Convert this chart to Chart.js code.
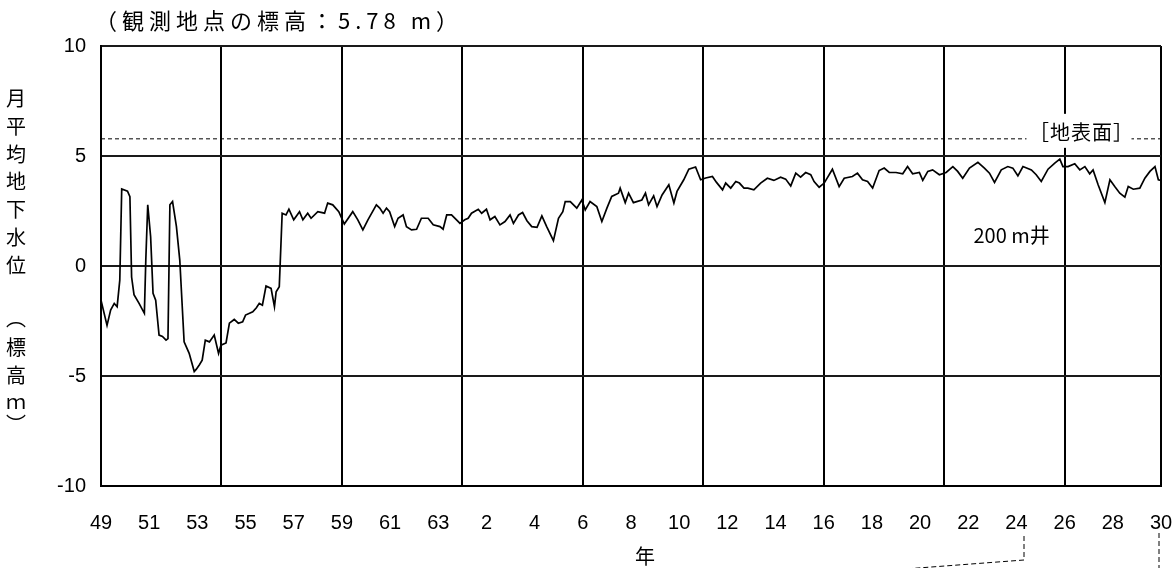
<!DOCTYPE html>
<html lang="ja">
<head>
<meta charset="utf-8">
<title>月平均地下水位 200 m井</title>
<script src="https://cdn.jsdelivr.net/npm/chart.js@4.4.1/dist/chart.umd.min.js"></script>
<style>
  html, body { margin: 0; padding: 0; background: #fff; }
  #wrap { position: relative; width: 1173px; height: 568px; }
</style>
</head>
<body>
<div id="wrap"><canvas id="wellChart" width="1173" height="568"></canvas></div>
<script>
// monthly mean groundwater level (T.P. m)
var obsYear = [
  1974.00, 1974.25, 1974.40, 1974.55, 1974.67, 1974.78, 1974.86, 1975.10, 1975.20, 1975.27,
  1975.37, 1975.58, 1975.80, 1975.86, 1975.94, 1976.06, 1976.16, 1976.27, 1976.41, 1976.55,
  1976.70, 1976.78, 1976.86, 1976.97, 1977.13, 1977.27, 1977.45, 1977.66, 1977.87, 1977.95,
  1978.08, 1978.20, 1978.33, 1978.50, 1978.70, 1978.88, 1978.98, 1979.19, 1979.33, 1979.53,
  1979.70, 1979.88, 1980.00, 1980.30, 1980.45, 1980.57, 1980.70, 1980.85, 1981.06, 1981.20,
  1981.27, 1981.40, 1981.52, 1981.68, 1981.80, 1982.00, 1982.24, 1982.38, 1982.58, 1982.72,
  1983.00, 1983.28, 1983.41, 1983.62, 1983.87, 1984.10, 1984.45, 1984.66, 1984.87, 1985.08,
  1985.43, 1985.57, 1985.71, 1985.85, 1985.98, 1986.19, 1986.33, 1986.54, 1986.68, 1986.89,
  1987.10, 1987.30, 1987.58, 1987.79, 1988.07, 1988.20, 1988.35, 1988.55, 1988.83, 1988.90,
  1989.10, 1989.24, 1989.38, 1989.66, 1989.80, 1990.00, 1990.15, 1990.35, 1990.56, 1990.77,
  1990.98, 1991.12, 1991.33, 1991.50, 1991.68, 1991.88, 1992.10, 1992.30, 1992.50, 1992.78,
  1992.99, 1993.17, 1993.27, 1993.48, 1993.75, 1993.96, 1994.10, 1994.30, 1994.58, 1994.79,
  1995.00, 1995.20, 1995.48, 1995.55, 1995.76, 1995.90, 1996.10, 1996.45, 1996.60, 1996.73,
  1996.94, 1997.08, 1997.29, 1997.57, 1997.78, 1997.91, 1998.19, 1998.40, 1998.68, 1998.89,
  1999.10, 1999.38, 1999.55, 1999.80, 1999.93, 2000.14, 2000.35, 2000.50, 2000.69, 2000.85,
  2001.10, 2001.38, 2001.66, 2001.93, 2002.21, 2002.42, 2002.63, 2002.84, 2003.04, 2003.25,
  2003.46, 2003.60, 2003.81, 2004.02, 2004.36, 2004.64, 2004.85, 2005.19, 2005.40, 2005.61,
  2005.82, 2006.03, 2006.30, 2006.51, 2006.72, 2007.00, 2007.28, 2007.48, 2007.69, 2007.97,
  2008.11, 2008.32, 2008.52, 2008.80, 2009.08, 2009.36, 2009.56, 2009.77, 2010.05, 2010.40,
  2010.67, 2010.88, 2011.09, 2011.37, 2011.64, 2011.85, 2012.06, 2012.27, 2012.62, 2012.82,
  2013.03, 2013.31, 2013.59, 2013.80, 2013.93, 2014.14, 2014.42, 2014.63, 2014.84, 2015.04,
  2015.18, 2015.39, 2015.67, 2015.88, 2016.08, 2016.29, 2016.50, 2016.64, 2016.85, 2017.12,
  2017.33, 2017.54, 2017.75, 2017.89, 2018.00
];
var level = [
  -1.55, -2.70, -2.00, -1.70, -1.85, -0.64, 3.50, 3.40, 3.15, -0.50,
  -1.30, -1.70, -2.15, 0.27, 2.78, 1.33, -1.24, -1.55, -3.14, -3.20,
  -3.37, -3.30, 2.78, 2.93, 1.80, 0.27, -3.45, -3.97, -4.80, -4.70,
  -4.50, -4.28, -3.37, -3.45, -3.14, -3.97, -3.60, -3.50, -2.60, -2.43,
  -2.60, -2.54, -2.23, -2.08, -1.90, -1.70, -1.78, -0.91, -1.02, -1.85,
  -1.17, -0.94, 2.40, 2.32, 2.58, 2.10, 2.47, 2.10, 2.40, 2.17,
  2.47, 2.40, 2.86, 2.78, 2.47, 1.91, 2.47, 2.10, 1.64, 2.10,
  2.78, 2.63, 2.40, 2.63, 2.47, 1.79, 2.17, 2.32, 1.79, 1.64,
  1.67, 2.17, 2.17, 1.87, 1.79, 1.67, 2.32, 2.32, 2.02, 1.94,
  2.10, 2.17, 2.40, 2.58, 2.40, 2.58, 2.10, 2.25, 1.87, 2.02,
  2.32, 1.94, 2.32, 2.43, 2.06, 1.79, 1.76, 2.28, 1.79, 1.15,
  2.17, 2.47, 2.93, 2.93, 2.63, 3.00, 2.55, 2.93, 2.70, 2.02,
  2.63, 3.16, 3.31, 3.54, 2.88, 3.31, 2.88, 3.00, 3.31, 2.78,
  3.19, 2.70, 3.23, 3.69, 2.86, 3.39, 3.92, 4.40, 4.50, 3.92,
  4.00, 4.07, 3.80, 3.46, 3.77, 3.54, 3.84, 3.77, 3.54, 3.54,
  3.46, 3.77, 3.99, 3.89, 4.04, 3.95, 3.64, 4.22, 4.04, 4.25,
  4.15, 3.84, 3.58, 3.77, 4.40, 3.61, 3.99, 4.07, 4.22, 3.92,
  3.84, 3.54, 4.34, 4.45, 4.25, 4.25, 4.19, 4.52, 4.19, 4.25,
  3.89, 4.30, 4.37, 4.15, 4.25, 4.52, 4.30, 3.99, 4.45, 4.71,
  4.45, 4.22, 3.80, 4.37, 4.52, 4.45, 4.10, 4.52, 4.37, 4.15,
  3.84, 4.40, 4.68, 4.86, 4.52, 4.52, 4.65, 4.37, 4.52, 4.19,
  4.37, 3.69, 2.88, 3.92, 3.61, 3.31, 3.13, 3.61, 3.49, 3.54,
  3.99, 4.30, 4.52, 3.92, 3.89
];

var groundLevel = 5.78;       // 観測地点の標高
var labelYears = [1974, 1976, 1978, 1980, 1982, 1984, 1986, 1988, 1990, 1992, 1994, 1996,
                  1998, 2000, 2002, 2004, 2006, 2008, 2010, 2012, 2014, 2016, 2018];
var labelText = ['49', '51', '53', '55', '57', '59', '61', '63', '2', '4', '6', '8',
                 '10', '12', '14', '16', '18', '20', '22', '24', '26', '28', '30'];
var gridYears = [1974, 1979, 1984, 1989, 1994, 1999, 2004, 2009, 2014, 2018];
var yTicks = [-10, -5, 0, 5, 10];
var yTitleChars = ['月', '平', '均', '地', '下', '水', '位', '︵', '標', '高', 'ｍ', '︶'];
var yTitlePos = [98, 126, 154, 181, 209, 237, 265, 318, 347, 375, 401, 424];

(function () {
  'use strict';

  var JP = '"Noto Sans CJK JP", "Noto Sans CJK SC", sans-serif';

  function tickYears() {
    var all = labelYears.concat(gridYears);
    return all.filter(function (v, i) { return all.indexOf(v) === i; }).sort(function (a, b) { return a - b; });
  }

  var decorPlugin = {
    id: 'decor',
    afterDatasetsDraw: function (chart) {
      var ctx = chart.ctx;
      var xs = chart.scales.x, ys = chart.scales.y;
      var gy = ys.getPixelForValue(groundLevel);
      ctx.save();
      // [地表面] label sits on the dashed line with a white box
      var lx = xs.getPixelForValue(2014.7);
      ctx.fillStyle = '#fff';
      ctx.fillRect(lx - 55, gy - 25, 105, 34);
      ctx.fillStyle = '#000';
      ctx.font = '20px ' + JP;
      ctx.textAlign = 'center';
      ctx.textBaseline = 'middle';
      ctx.letterSpacing = '1px';
      ctx.fillText('［地表面］', lx, gy - 6);
      // well label
      ctx.letterSpacing = '0px';
      ctx.fillText('200 m井', xs.getPixelForValue(2011.8), ys.getPixelForValue(1.37));
      ctx.restore();
    },
    afterDraw: function (chart) {
      var ctx = chart.ctx;
      var area = chart.chartArea;
      ctx.save();
      ctx.fillStyle = '#000';
      ctx.textBaseline = 'middle';
      ctx.textAlign = 'left';
      ctx.font = '22px ' + JP;
      ctx.letterSpacing = '5px';
      ctx.fillText('（観測地点の標高：5.78 m）', area.left - 6, 21);
      ctx.letterSpacing = '0px';

      ctx.textAlign = 'center';
      ctx.font = '20px ' + JP;
      yTitleChars.forEach(function (ch, i) { ctx.fillText(ch, 16, yTitlePos[i]); });

      ctx.fillText('年', 645, 556);

      // callout lines running off the bottom of the figure
      ctx.strokeStyle = '#000';
      ctx.lineWidth = 1;
      ctx.setLineDash([5, 3]);
      ctx.beginPath();
      ctx.moveTo(1024, 536);
      ctx.lineTo(1024, 560);
      ctx.lineTo(905, 569);
      ctx.moveTo(1159, 533);
      ctx.lineTo(1159, 569);
      ctx.stroke();
      ctx.restore();
    }
  };

  function initChart() {
    var canvas = document.getElementById('wellChart');
    if (!canvas || typeof Chart === 'undefined') return;

    Chart.defaults.font.family = '"Liberation Sans", Arial, sans-serif';
    Chart.defaults.font.size = 20;
    Chart.defaults.color = '#000';

    var points = obsYear.map(function (t, i) { return { x: t, y: level[i] }; });
    var ground = [{ x: labelYears[0], y: groundLevel }, { x: labelYears[labelYears.length - 1], y: groundLevel }];

    new Chart(canvas.getContext('2d'), {
      type: 'line',
      data: {
        datasets: [
          { label: '200 m井', data: points, borderColor: '#000', borderWidth: 1.7, pointRadius: 0, tension: 0, fill: false },
          { label: '地表面', data: ground, borderColor: '#000', borderWidth: 1, borderDash: [4, 3], pointRadius: 0, fill: false }
        ]
      },
      options: {
        responsive: false,
        animation: false,
        layout: { padding: { top: 46, right: 12, left: 0, bottom: 0 } },
        plugins: { legend: { display: false }, tooltip: { enabled: false } },
        scales: {
          x: {
            type: 'linear',
            min: labelYears[0],
            max: labelYears[labelYears.length - 1],
            afterBuildTicks: function (scale) {
              scale.ticks = tickYears().map(function (v) { return { value: v }; });
            },
            afterFit: function (scale) {
              scale.height = 82;
              scale.paddingLeft = 0;
              scale.paddingRight = 0;
            },
            ticks: {
              autoSkip: false, maxRotation: 0, padding: 25,
              callback: function (v) {
                var i = labelYears.indexOf(v);
                return i < 0 ? '' : labelText[i];
              }
            },
            grid: {
              drawTicks: false,
              lineWidth: 2,
              color: function (c) {
                return c.tick && gridYears.indexOf(c.tick.value) >= 0 ? '#000' : 'rgba(0,0,0,0)';
              }
            },
            border: { display: true, color: '#000', width: 2 }
          },
          y: {
            min: yTicks[0],
            max: yTicks[yTicks.length - 1],
            afterBuildTicks: function (scale) {
              scale.ticks = yTicks.map(function (v) { return { value: v }; });
            },
            afterFit: function (scale) {
              scale.width = 101;
              scale.paddingTop = 0;
              scale.paddingBottom = 0;
            },
            ticks: { padding: 15 },
            grid: { drawTicks: false, lineWidth: 2, color: '#1a1a1a' },
            border: { display: true, color: '#000', width: 2 }
          }
        }
      },
      plugins: [decorPlugin]
    });
  }

  initChart();
})();
</script>
</body>
</html>
